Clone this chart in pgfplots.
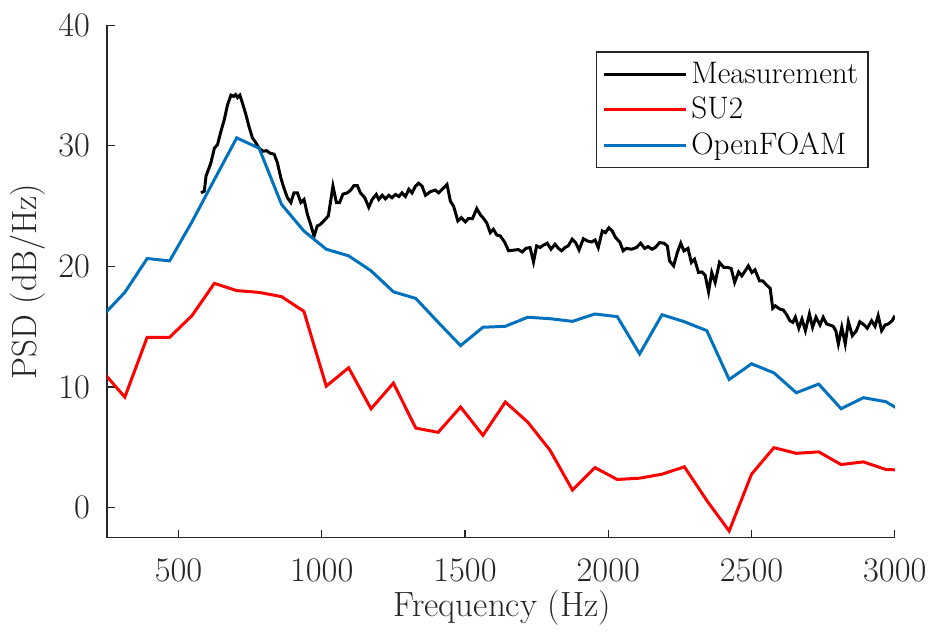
\documentclass[border=0pt]{standalone}
\usepackage{pgfplots}
\pgfplotsset{compat=1.18}
\definecolor{axgray}{RGB}{38,38,38}
\definecolor{mblue}{rgb}{0,0.447,0.741}
\begin{document}
\begin{tikzpicture}
\begin{axis}[
  name=ax,
  scale only axis,
  width=395.5pt, height=257.35pt,
  xmin=250, xmax=3000, ymin=-2.5, ymax=40,
  axis lines*=left,
  axis line style={axgray, line width=0.6pt},
  tick style={axgray, line width=0.6pt},
  tick align=inside,
  major tick length=4pt,
  xtick={500,1000,1500,2000,2500,3000},
  ytick={0,10,20,30,40},
  scaled x ticks=false,
  /pgf/number format/1000 sep={},
  xticklabel style={font=\fontsize{16}{19}\selectfont, text=axgray, yshift=-7pt},
  yticklabel style={font=\fontsize{16}{19}\selectfont, text=axgray, xshift=-5pt},
  xlabel={Frequency (Hz)},
  ylabel={PSD (dB/Hz)},
  xlabel style={font=\fontsize{17.6}{21}\selectfont, text=axgray, at={(axis description cs:0.502,-0.136)}, anchor=center},
  ylabel style={font=\fontsize{17.6}{21}\selectfont, text=axgray, at={(axis description cs:-0.1003,0.5)}, anchor=center, rotate=0},
  legend style={at={(axis description cs:0.9667,0.949)}, anchor=north east,
    font=\fontsize{15.6}{18}\selectfont, draw=axgray, line width=0.6pt,
    row sep=1.5pt, inner xsep=3pt, inner ysep=3pt},
  legend cell align=left,
  legend image code/.code={\draw[#1, line width=1.5pt] (0pt,0pt) -- (41pt,0pt);},
]
\addplot[black, line width=1.5pt] coordinates {
(578.6,26.1)(590,26.25)(596,27.5)(607,28.2)(613,28.6)(625,29.8)(636,30.1)(648,31.2)(660,32.2)(671,33.4)
(683,34.2)(692,34.1)(699,34.25)(706,34.0)(714,34.2)(723,33.55)(735,32.6)(747,31.5)(758,30.66)(770,30.25)
(781,29.8)(795,29.55)(807,29.6)(819,29.4)(834,29.3)(845,28.6)(857,27.35)(868,26.5)(880,25.7)(892,25.3)
(903,26.1)(915,26.1)(927,25.3)(938,25.55)(950,24.3)(961,23.5)(973,22.5)(984,23.35)(996,23.5)(1008,23.8)
(1023,24.2)(1039,26.66)(1051,25.3)(1062,25.3)(1074,26.0)(1089,26.1)(1101,26.33)(1112,26.7)(1124,26.7)(1135,26.1)
(1150,25.7)(1164,24.9)(1176,25.56)(1190,25.97)(1199,25.56)(1211,25.9)(1222,25.6)(1234,25.9)(1245,25.7)(1257,25.97)
(1269,25.8)(1280,26.1)(1292,25.8)(1304,26.4)(1315,26.1)(1327,26.66)(1338,26.9)(1350,26.66)(1362,25.9)(1379,26.2)
(1396,26.33)(1408,26.1)(1425,26.5)(1437,26.8)(1449,25.4)(1460,25.0)(1475,23.77)(1487,24.05)(1501,23.7)(1512,23.97)
(1526,23.97)(1541,24.8)(1553,24.3)(1565,23.97)(1576,23.6)(1588,22.8)(1599,23.08)(1611,22.6)(1623,22.53)(1638,22.03)
(1652,21.3)(1669,21.35)(1686,21.4)(1700,21.2)(1712,21.5)(1727,21.57)(1739,20.38)(1750,21.7)(1762,21.57)(1773,21.76)
(1787,21.93)(1800,21.43)(1814,21.84)(1826,21.5)(1837,21.3)(1849,21.57)(1860,21.7)(1874,22.26)(1886,21.98)(1898,21.37)
(1913,22.3)(1928,22.1)(1942,22.03)(1954,22.2)(1965,21.57)(1979,22.94)(1990,22.8)(2002,23.2)(2014,22.94)(2025,22.4)
(2040,22.03)(2052,21.3)(2063,21.5)(2081,21.43)(2098,21.57)(2113,21.93)(2127,21.5)(2139,21.65)(2153,21.43)(2164,21.57)
(2179,21.98)(2194,21.93)(2206,21.7)(2214,20.46)(2228,20.05)(2241,21.16)(2253,21.93)(2264,21.29)(2278,21.5)(2290,20.33)
(2301,20.6)(2315,19.5)(2327,19.55)(2338,19.28)(2350,17.9)(2361,19.5)(2373,18.68)(2388,20.33)(2403,19.92)(2417,19.92)
(2429,19.83)(2441,18.68)(2455,19.55)(2466,19.22)(2478,19.64)(2489,20.05)(2501,19.5)(2512,19.72)(2528,18.8)(2539,18.8)
(2553,18.45)(2565,18.18)(2574,16.53)(2583,16.74)(2591,16.6)(2599,16.47)(2611,16.39)(2623,15.98)(2634,15.5)(2644,15.37)
(2653,15.79)(2665,14.88)(2676,15.64)(2688,14.68)(2702,16.06)(2713,14.96)(2725,15.79)(2739,15.15)(2750,15.79)(2762,15.23)
(2773,15.15)(2785,15.04)(2794,14.68)(2803,13.58)(2815,14.96)(2827,13.58)(2838,15.42)(2852,14.26)(2866,14.68)(2878,15.42)
(2893,15.15)(2904,14.88)(2919,15.5)(2931,15.04)(2942,15.92)(2954,14.68)(2966,15.15)(2977,15.23)(2991,15.5)(3000,15.92)
};
\addlegendentry{Measurement}
\addplot[red, line width=1.5pt] coordinates {
(234.4,11.31)(312.5,9.17)(390.6,14.13)(468.75,14.13)(546.9,15.92)(625,18.6)(703.1,18.0)(781.25,17.85)
(859.4,17.5)(937.5,16.28)(1015.6,10.08)(1093.75,11.6)(1171.9,8.2)(1250,10.33)(1328.1,6.6)(1406.25,6.25)
(1484.4,8.35)(1562.5,6.0)(1640.6,8.76)(1718.75,7.1)(1796.9,4.76)(1875,1.46)(1953.1,3.33)(2031.25,2.34)
(2109.4,2.45)(2187.5,2.78)(2265.6,3.39)(2343.75,0.6)(2421.9,-1.93)(2500,2.78)(2578.1,4.98)(2656.25,4.51)
(2734.4,4.63)(2812.5,3.58)(2890.6,3.8)(2968.75,3.17)(3046.9,3.1)
};
\addlegendentry{SU2}
\addplot[mblue, line width=1.5pt] coordinates {
(234.4,15.89)(312.5,17.85)(390.6,20.66)(468.75,20.46)(546.9,23.7)(625,27.2)(703.1,30.66)(781.25,29.8)
(859.4,25.15)(937.5,22.94)(1015.6,21.43)(1093.75,20.88)(1171.9,19.64)(1250,17.9)(1328.1,17.35)(1406.25,15.37)
(1484.4,13.44)(1562.5,14.96)(1640.6,15.04)(1718.75,15.79)(1796.9,15.67)(1875,15.45)(1953.1,16.06)(2031.25,15.84)
(2109.4,12.75)(2187.5,16.0)(2265.6,15.42)(2343.75,14.68)(2421.9,10.63)(2500,11.93)(2578.1,11.18)(2656.25,9.53)
(2734.4,10.25)(2812.5,8.21)(2890.6,9.12)(2968.75,8.79)(3046.9,7.69)
};
\addlegendentry{OpenFOAM}
\coordinate (bl) at (axis description cs:-0.1357,-0.1885);
\coordinate (tr) at (axis description cs:1.0439,1.0492);
\end{axis}
\path (bl) rectangle (tr);
\end{tikzpicture}
\end{document}
